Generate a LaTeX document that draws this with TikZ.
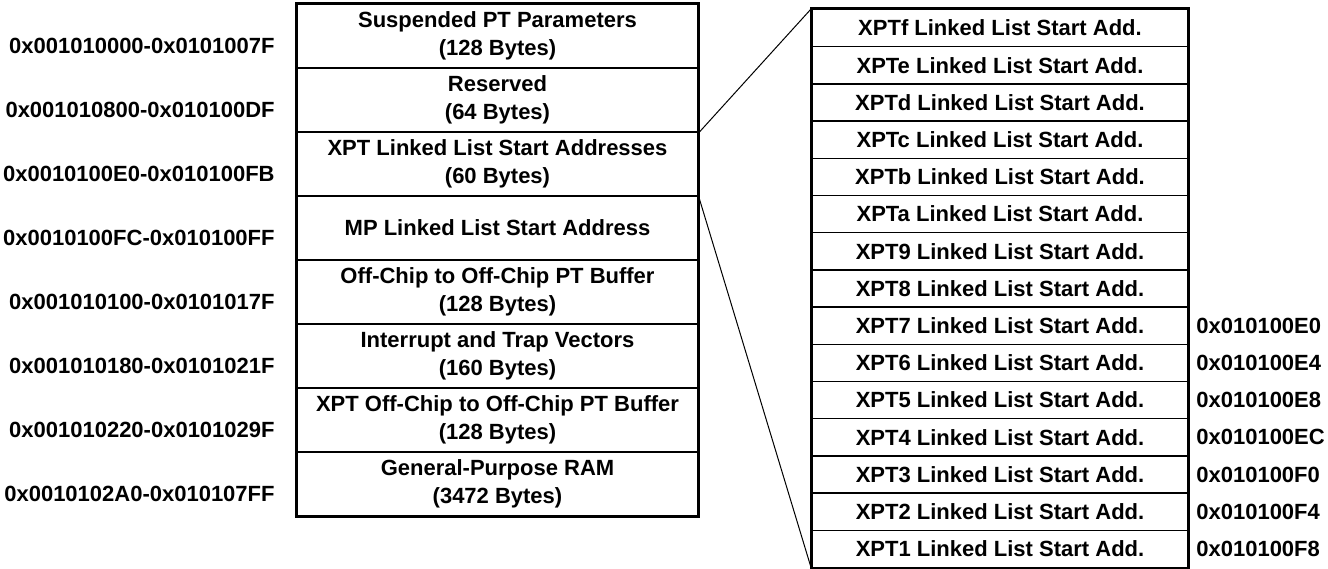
\documentclass[tikz,border=0pt]{standalone}
\usepackage{fontspec}
\setmainfont{Liberation Sans}
\usetikzlibrary{positioning}

\begin{document}
\begin{tikzpicture}[node distance=32pt,semithick,
    lcell/.style={draw,line width=0.75pt,minimum width=200.5pt,minimum height=32pt,inner sep=0pt,align=center,font=\fontsize{11}{14}\selectfont\bfseries},
    xcell/.style={draw,line width=0.75pt,minimum width=188pt,minimum height=18.6pt,inner sep=0pt,node distance=18.6pt,font=\fontsize{11}{13}\selectfont\bfseries},
    addr/.style={inner sep=0pt,font=\fontsize{11}{13}\selectfont\bfseries}]
    \useasboundingbox (0,0) rectangle (664pt,-284pt);

    % memory map
    \node[lcell] (S1) at (248.75pt,-18pt) {Suspended PT Parameters\\(128 Bytes)};
    \node[lcell] (S2) [below of=S1] {Reserved\\(64 Bytes)};
    \node[lcell] (S3) [below of=S2] {XPT Linked List Start Addresses\\(60 Bytes)};
    \node[lcell] (S4) [below of=S3] {MP Linked List Start Address};
    \node[lcell] (S5) [below of=S4] {Off-Chip to Off-Chip PT Buffer\\(128 Bytes)};
    \node[lcell] (S6) [below of=S5] {Interrupt and Trap Vectors\\(160 Bytes)};
    \node[lcell] (S7) [below of=S6] {XPT Off-Chip to Off-Chip PT Buffer\\(128 Bytes)};
    \node[lcell] (S8) [below of=S7] {General-Purpose RAM\\(3472 Bytes)};
    \draw[line width=1.5pt] (S1.north west) rectangle (S8.south east);

    \node[addr] (L1) [left=10.5pt of S1,yshift=-5pt] {0x001010000-0x0101007F};
    \node[addr] (L2) [left=10.5pt of S2,yshift=-5pt] {0x001010800-0x010100DF};
    \node[addr] (L3) [left=10.5pt of S3,yshift=-5pt] {0x0010100E0-0x010100FB};
    \node[addr] (L4) [left=10.5pt of S4,yshift=-5pt] {0x0010100FC-0x010100FF};
    \node[addr] (L5) [left=10.5pt of S5,yshift=-5pt] {0x001010100-0x0101017F};
    \node[addr] (L6) [left=10.5pt of S6,yshift=-5pt] {0x001010180-0x0101021F};
    \node[addr] (L7) [left=10.5pt of S7,yshift=-5pt] {0x001010220-0x0101029F};
    \node[addr] (L8) [left=10.5pt of S8,yshift=-5pt] {0x0010102A0-0x010107FF};

    % XPT start address table
    \node[xcell] (X1) at (500pt,-14.05pt) {XPTf Linked List Start Add.};
    \node[xcell] (X2) [below of=X1] {XPTe Linked List Start Add.};
    \node[xcell] (X3) [below of=X2] {XPTd Linked List Start Add.};
    \node[xcell] (X4) [below of=X3] {XPTc Linked List Start Add.};
    \node[xcell] (X5) [below of=X4] {XPTb Linked List Start Add.};
    \node[xcell] (X6) [below of=X5] {XPTa Linked List Start Add.};
    \node[xcell] (X7) [below of=X6] {XPT9 Linked List Start Add.};
    \node[xcell] (X8) [below of=X7] {XPT8 Linked List Start Add.};
    \node[xcell] (X9) [below of=X8] {XPT7 Linked List Start Add.};
    \node[xcell] (X10) [below of=X9] {XPT6 Linked List Start Add.};
    \node[xcell] (X11) [below of=X10] {XPT5 Linked List Start Add.};
    \node[xcell] (X12) [below of=X11] {XPT4 Linked List Start Add.};
    \node[xcell] (X13) [below of=X12] {XPT3 Linked List Start Add.};
    \node[xcell] (X14) [below of=X13] {XPT2 Linked List Start Add.};
    \node[xcell] (X15) [below of=X14] {XPT1 Linked List Start Add.};
    \draw[line width=1.5pt] (X1.north west) rectangle (X15.south east);

    \node[addr] (A9) [right=3.5pt of X9] {0x010100E0};
    \node[addr] (A10) [right=3.5pt of X10] {0x010100E4};
    \node[addr] (A11) [right=3.5pt of X11] {0x010100E8};
    \node[addr] (A12) [right=3.5pt of X12] {0x010100EC};
    \node[addr] (A13) [right=3.5pt of X13] {0x010100F0};
    \node[addr] (A14) [right=3.5pt of X14] {0x010100F4};
    \node[addr] (A15) [right=3.5pt of X15] {0x010100F8};

    % zoom lines
    \draw[line width=0.5pt] (S2.south east) -- (X1.north west);
    \draw[line width=0.5pt] (S3.south east) -- (X15.south west);
\end{tikzpicture}
\end{document}
